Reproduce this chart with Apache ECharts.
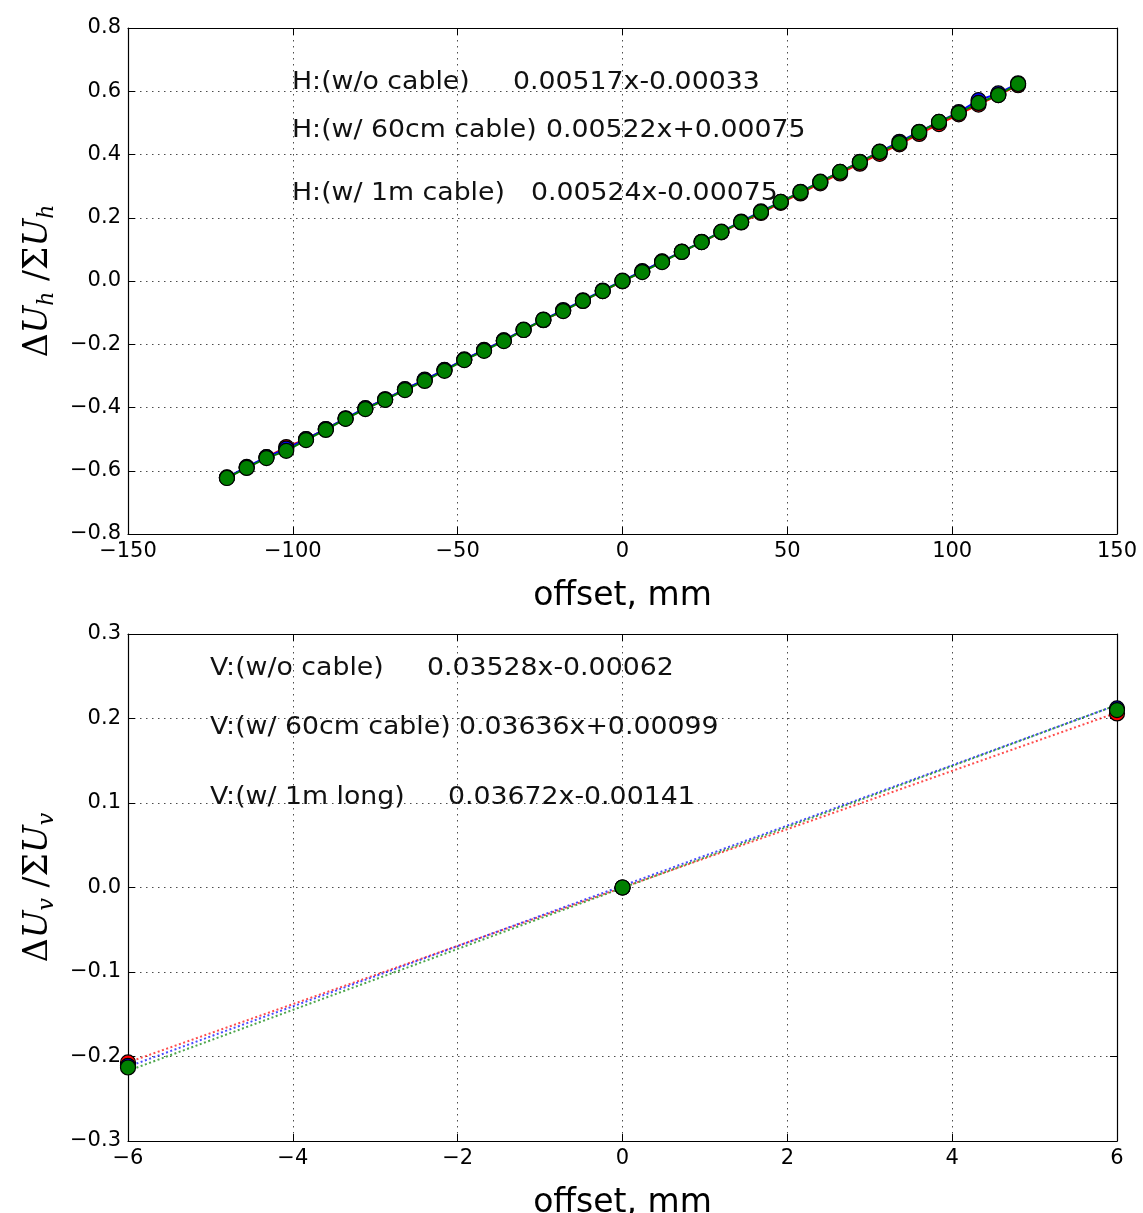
<!DOCTYPE html>
<html><head><meta charset="utf-8">
<script src="https://cdn.jsdelivr.net/npm/echarts@6/dist/echarts.min.js"></script>
<style>html,body{margin:0;padding:0;background:#fff}#c{width:1143px;height:1213px}</style>
</head><body><div id="c"></div>
<script>
// ---- Data ----
const hOffsets = [-120,-114,-108,-102,-96,-90,-84,-78,-72,-66,-60,-54,-48,-42,-36,-30,-24,-18,-12,-6,0,6,12,18,24,30,36,42,48,54,60,66,72,78,84,90,96,102,108,114,120];
const hRed   = [-0.621,-0.590,-0.557,-0.525,-0.500,-0.468,-0.435,-0.403,-0.374,-0.343,-0.313,-0.282,-0.249,-0.219,-0.188,-0.155,-0.124,-0.094,-0.063,-0.032,-0.001,0.030,0.061,0.092,0.123,0.154,0.185,0.215,0.247,0.277,0.309,0.340,0.371,0.402,0.432,0.465,0.496,0.527,0.558,0.588,0.619];
const hBlue  = [-0.622,-0.588,-0.557,-0.530,-0.500,-0.468,-0.434,-0.402,-0.374,-0.342,-0.312,-0.281,-0.248,-0.218,-0.188,-0.154,-0.122,-0.092,-0.061,-0.030,0.001,0.031,0.062,0.093,0.124,0.156,0.188,0.220,0.250,0.282,0.314,0.345,0.377,0.409,0.440,0.472,0.503,0.534,0.572,0.593,0.625];
const hGreen = [-0.623,-0.591,-0.560,-0.537,-0.503,-0.471,-0.436,-0.405,-0.376,-0.345,-0.316,-0.284,-0.250,-0.221,-0.190,-0.155,-0.123,-0.095,-0.063,-0.032,0.000,0.028,0.060,0.092,0.123,0.155,0.186,0.218,0.250,0.281,0.313,0.345,0.376,0.408,0.436,0.471,0.503,0.531,0.563,0.588,0.623];
const vOffsets = [-6,0,6];
const vRed   = [-0.207,0.000,0.206];
const vBlue  = [-0.211,0.000,0.212];
const vGreen = [-0.213,0.000,0.210];
const vFitX = [-6,6];
const vFitRed   = [-0.207,0.207];
const vFitBlue  = [-0.212,0.216];
const vFitGreen = [-0.217,0.216];
const hTicksX = [-150,150,50];
const hTicksY = [-0.8,0.8,0.2];
const vTicksX = [-6,6,2];
const vTicksY = [-0.3,0.3,0.1];
const hLabels = [['H:(w/o cable)','0.00517x-0.00033'],['H:(w/ 60cm cable)','0.00522x+0.00075'],['H:(w/ 1m cable)','0.00524x-0.00075']];
const vLabels = [['V:(w/o cable)','0.03528x-0.00062'],['V:(w/ 60cm cable)','0.03636x+0.00099'],['V:(w/ 1m long)','0.03672x-0.00141']];

// ---- Chart ----
const FONT = 'DejaVu Sans';
const minus = s => String(s).replace('-', '\u2212');
const zip = (xs, ys) => xs.map((x,i)=>[x, ys[i]]);
const grids = [
  {left:128, top:28, width:989, height:506, outerBoundsMode:'none', containLabel:false},
  {left:128, top:634, width:989, height:507, outerBoundsMode:'none', containLabel:false}
];
function xAx(g, t, dec, main){
  return {type:'value', gridIndex:g, min:t[0], max:t[1], interval:t[2], position: main?'bottom':'top',
    axisLine:{show:true, onZero:false, lineStyle:{color:'#000', width:1.2}},
    axisTick:{show:true, inside:true, length:7, lineStyle:{color:'#000'}},
    axisLabel:{show:main, color:'#000', fontFamily:FONT, fontSize:21, margin:7, formatter:v=>minus(v.toFixed(dec))},
    splitLine:{show:main, lineStyle:{color:'#000', type:[1.5,4.5], width:1, opacity:0.7}},
    name: main?'offset, mm':'', nameLocation:'middle', nameGap:46,
    nameTextStyle:{color:'#000', fontFamily:FONT, fontSize:33}};
}
function yAx(g, t, dec, main, sub){
  return {type:'value', gridIndex:g, min:t[0], max:t[1], interval:t[2], position: main?'left':'right',
    axisLine:{show:true, onZero:false, lineStyle:{color:'#000', width:1.2}},
    axisTick:{show:true, inside:true, length:7, lineStyle:{color:'#000'}},
    axisLabel:{show:main, color:'#000', fontFamily:FONT, fontSize:21, margin:7, formatter:v=>minus(v.toFixed(dec))},
    splitLine:{show:main, lineStyle:{color:'#000', type:[1.5,4.5], width:1, opacity:0.7}},
    name: main?('{a|Δ}{u|U}{s|'+sub+'}{a| /Σ}{u|U}{s|'+sub+'}'):'', nameLocation:'middle', nameRotate:90, nameGap:70,
    nameTextStyle:{color:'#000', rich:{
      a:{fontFamily:'DejaVu Serif', fontSize:33, color:'#000', lineHeight:40, verticalAlign:'middle'},
      u:{fontFamily:'DejaVu Serif', fontStyle:'italic', fontSize:33, color:'#000', lineHeight:40, verticalAlign:'middle'},
      s:{fontFamily:'DejaVu Serif', fontStyle:'italic', fontSize:22, color:'#000', lineHeight:40, verticalAlign:'bottom'}
    }}};
}
function pts(name, xs, ys, color, xi, yi, showLine){
  return {name, type:'line', xAxisIndex:xi, yAxisIndex:yi, data:zip(xs,ys), symbol:'circle', symbolSize:15,
    clip:true,
    itemStyle:{color:color, borderColor:'#000', borderWidth:1.2},
    lineStyle:{color:color, width: showLine?2:0, opacity: showLine?1:0}, animation:false};
}
function fit(name, xs, ys, color){
  return {name, type:'line', xAxisIndex:2, yAxisIndex:2, data:zip(xs,ys), showSymbol:false, symbol:'none',
    lineStyle:{color:color, width:2, type:[2,2.5], opacity:0.7}, animation:false, z:1};
}
const graphics = [];
const hPos = [[292,513,82],[292,546,130],[292,531,193]];
const vPos = [[210,427,668],[210,459,727],[210,448,797]];
function addText(x, y, s){
  graphics.push({type:'text', x:x, y:y, scaleX:1.07, style:{text:s, fill:'#111', font:'25px "DejaVu Sans"', verticalAlign:'middle'}, z:100});
}
hLabels.forEach((l,i)=>{addText(hPos[i][0], hPos[i][2], l[0]); addText(hPos[i][1], hPos[i][2], l[1]);});
vLabels.forEach((l,i)=>{addText(vPos[i][0], vPos[i][2], l[0]); addText(vPos[i][1], vPos[i][2], l[1]);});

const chart = echarts.init(document.getElementById('c'), null, {renderer:'canvas'});
chart.setOption({
  backgroundColor:'#fff',
  animation:false,
  grid: grids,
  xAxis:[xAx(0,hTicksX,0,true), xAx(0,hTicksX,0,false), xAx(1,vTicksX,0,true), xAx(1,vTicksX,0,false)],
  yAxis:[yAx(0,hTicksY,1,true,'h'), yAx(0,hTicksY,1,false,'h'), yAx(1,vTicksY,1,true,'v'), yAx(1,vTicksY,1,false,'v')],
  graphic: graphics,
  series:[
    pts('H red', hOffsets, hRed, '#ff0000', 0, 0, true),
    pts('H blue', hOffsets, hBlue, '#0000ff', 0, 0, true),
    pts('H green', hOffsets, hGreen, '#008000', 0, 0, true),
    fit('V fit red', vFitX, vFitRed, '#ff0000'),
    fit('V fit blue', vFitX, vFitBlue, '#0000ff'),
    fit('V fit green', vFitX, vFitGreen, '#008000'),
    pts('V red', vOffsets, vRed, '#ff0000', 2, 2, false),
    pts('V blue', vOffsets, vBlue, '#0000ff', 2, 2, false),
    pts('V green', vOffsets, vGreen, '#008000', 2, 2, false)
  ]
});
</script></body></html>
